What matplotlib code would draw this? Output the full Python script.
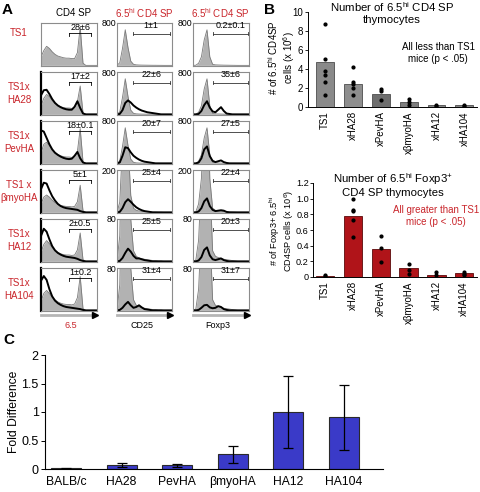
import matplotlib.pyplot as plt
from matplotlib.lines import Line2D
import numpy as np

plt.rcParams['font.family'] = ['Liberation Sans', 'DejaVu Sans']
plt.rcParams['mathtext.fontset'] = 'custom'
plt.rcParams['mathtext.rm'] = 'Liberation Sans'
plt.rcParams['mathtext.it'] = 'Liberation Sans:italic'

W, H = 480, 492
RED = '#c9252b'
GRAY_FILL = '#b2b2b2'

# ---------------- panel A data (histograms) ----------------
row_labels = ['TS1', 'TS1x\nHA28', 'TS1x\nPevHA', 'TS1 x\n\u03b2myoHA', 'TS1x\nHA12', 'TS1x\nHA104']
col_titles = ['CD4 SP', '6.5$^{\\mathrm{hi}}$ CD4 SP', '6.5$^{\\mathrm{hi}}$ CD4 SP']
col_axis = ['6.5', 'CD25', 'Foxp3']
gate_col1 = ['28\u00b16', '17\u00b12', '18\u00b10.1', '5\u00b11', '2\u00b10.5', '1\u00b10.2']
gate_col2 = ['1\u00b11', '22\u00b16', '20\u00b17', '25\u00b14', '25\u00b15', '31\u00b14']
gate_col3 = ['0.2\u00b10.1', '35\u00b16', '27\u00b15', '22\u00b14', '20\u00b13', '31\u00b17']
y_max = [800, 800, 800, 200, 80, 80]

# 6.5 expression, gray = TS1 reference (fraction of box height), one row each
gray_65 = [
    [0.2, 0.35, 0.45, 0.4, 0.32, 0.26, 0.22, 0.2, 0.18, 0.17, 0.17, 0.16, 0.16, 0.3, 0.91, 0.05, 0, 0, 0, 0, 0],
    [0.2, 0.38, 0.47, 0.42, 0.33, 0.26, 0.21, 0.18, 0.16, 0.15, 0.15, 0.14, 0.15, 0.3, 0.67, 0.04, 0, 0, 0, 0, 0],
    [0.25, 0.45, 0.5, 0.42, 0.33, 0.26, 0.21, 0.18, 0.16, 0.15, 0.15, 0.14, 0.15, 0.28, 0.82, 0.04, 0, 0, 0, 0, 0],
    [0.2, 0.36, 0.41, 0.36, 0.29, 0.23, 0.19, 0.16, 0.15, 0.14, 0.14, 0.13, 0.14, 0.25, 0.64, 0.04, 0, 0, 0, 0, 0],
    [0.22, 0.4, 0.49, 0.42, 0.33, 0.26, 0.21, 0.18, 0.16, 0.15, 0.15, 0.14, 0.15, 0.27, 0.67, 0.04, 0, 0, 0, 0, 0],
    [0.22, 0.4, 0.47, 0.4, 0.31, 0.25, 0.2, 0.17, 0.15, 0.14, 0.14, 0.13, 0.15, 0.3, 0.8, 0.04, 0, 0, 0, 0, 0],
]
black_65 = [
    None,
    [0.45, 0.57, 0.58, 0.48, 0.36, 0.27, 0.21, 0.17, 0.14, 0.12, 0.11, 0.11, 0.18, 0.31, 0.15, 0.02, 0, 0, 0, 0, 0],
    [0.78, 0.75, 0.6, 0.45, 0.33, 0.25, 0.2, 0.16, 0.13, 0.11, 0.1, 0.11, 0.18, 0.27, 0.12, 0.02, 0, 0, 0, 0, 0],
    [0.55, 0.7, 0.68, 0.52, 0.38, 0.28, 0.2, 0.15, 0.12, 0.1, 0.09, 0.08, 0.07, 0.06, 0.03, 0.01, 0, 0, 0, 0, 0],
    [0.6, 0.77, 0.7, 0.52, 0.36, 0.26, 0.2, 0.16, 0.13, 0.11, 0.1, 0.09, 0.08, 0.06, 0.03, 0.01, 0, 0, 0, 0, 0],
    [0.7, 0.81, 0.72, 0.5, 0.33, 0.23, 0.17, 0.13, 0.1, 0.08, 0.07, 0.06, 0.05, 0.04, 0.03, 0.01, 0, 0, 0, 0, 0],
]
# CD25 / Foxp3: TS1 reference in units of 800 events
gray_cd25 = [0, 0.06, 0.4, 0.84, 0.42, 0.1, 0.025, 0.012, 0.008, 0.006, 0.005, 0.004, 0.003, 0.002, 0.002, 0.001, 0.001, 0, 0, 0, 0]
gray_foxp3 = [0, 0.003, 0.05, 0.2, 0.6, 0.84, 0.2, 0.025, 0.012, 0.009, 0.007, 0.005, 0.004, 0.003, 0.002, 0.001, 0, 0, 0, 0, 0]
black_cd25 = [
    None,
    [0, 0.01, 0.1, 0.27, 0.33, 0.28, 0.21, 0.16, 0.12, 0.09, 0.07, 0.05, 0.04, 0.03, 0.02, 0.01, 0, 0, 0, 0, 0],
    [0, 0.02, 0.18, 0.38, 0.36, 0.26, 0.18, 0.13, 0.09, 0.06, 0.04, 0.03, 0.02, 0.01, 0, 0, 0, 0, 0, 0, 0],
    [0, 0.01, 0.1, 0.24, 0.31, 0.25, 0.18, 0.12, 0.08, 0.05, 0.03, 0.02, 0.01, 0, 0, 0, 0, 0, 0, 0, 0],
    [0, 0.01, 0.08, 0.2, 0.3, 0.23, 0.13, 0.07, 0.07, 0.05, 0.03, 0.02, 0.01, 0, 0, 0, 0, 0, 0, 0, 0],
    [0, 0.01, 0.06, 0.14, 0.2, 0.12, 0.06, 0.08, 0.12, 0.07, 0.03, 0.02, 0.01, 0, 0, 0, 0, 0, 0, 0, 0],
]
black_foxp3 = [
    None,
    [0, 0, 0.01, 0.08, 0.22, 0.31, 0.16, 0.07, 0.05, 0.11, 0.17, 0.08, 0.02, 0.01, 0, 0, 0, 0, 0, 0, 0],
    [0, 0, 0.02, 0.12, 0.33, 0.4, 0.17, 0.06, 0.03, 0.05, 0.07, 0.03, 0.01, 0, 0, 0, 0, 0, 0, 0, 0],
    [0, 0, 0.02, 0.1, 0.26, 0.33, 0.15, 0.06, 0.03, 0.04, 0.05, 0.04, 0.01, 0, 0, 0, 0, 0, 0, 0, 0],
    [0, 0, 0.02, 0.1, 0.27, 0.33, 0.14, 0.05, 0.03, 0.05, 0.07, 0.03, 0.01, 0, 0, 0, 0, 0, 0, 0, 0],
    [0, 0, 0.01, 0.06, 0.12, 0.13, 0.07, 0.05, 0.06, 0.1, 0.08, 0.03, 0.01, 0, 0, 0, 0, 0, 0, 0, 0],
]

# ---------------- panel B data ----------------
b_groups = ['TS1', 'xHA28', 'xPevHA', 'x\u03b2myoHA', 'xHA12', 'xHA104']
b1_means = [4.75, 2.45, 1.38, 0.53, 0.16, 0.16]
b1_points = [[8.7, 5.1, 3.75, 3.4, 2.6, 1.3], [4.2, 2.6, 2.4, 2.0, 1.3], [1.9, 1.7, 0.75],
             [0.85, 0.5, 0.25], [0.25, 0.1], [0.25, 0.1]]
b2_means = [0.015, 0.78, 0.36, 0.11, 0.03, 0.045]
b2_points = [[0.03, 0.01], [0.99, 0.85, 0.84, 0.73, 0.51], [0.52, 0.37, 0.19],
             [0.17, 0.09, 0.04], [0.06, 0.03], [0.07, 0.04, 0.025]]

# ---------------- panel C data ----------------
c_groups = ['BALB/c', 'HA28', 'PevHA', '\u03b2myoHA', 'HA12', 'HA104']
c_means = [0.01, 0.07, 0.065, 0.26, 1.0, 0.91]
c_err = [0.01, 0.04, 0.025, 0.15, 0.64, 0.57]

fig = plt.figure(figsize=(W / 100, H / 100), dpi=100)


def px_axes(x0, y0, x1, y1):
    return fig.add_axes([x0 / W, 1 - y1 / H, (x1 - x0) / W, (y1 - y0) / H])


def px_text(x, y, s, **kw):
    fig.text(x / W, 1 - y / H, s, **kw)


# ---------------- panel A ----------------
px_text(2, 10, 'A', fontsize=11, fontweight='bold', va='center')
col_x = [(41, 97), (117, 172), (193, 249)]
row_top = [23, 72, 121, 170, 219, 268]
box_h = 43
grid = np.linspace(0, 1, 21)
col_centers = [73, 144, 220]
for j, t in enumerate(col_titles):
    px_text(col_centers[j], 13, t, fontsize=7, ha='center', va='center',
            color='k' if j == 0 else RED)

for i in range(6):
    y0 = row_top[i]
    ly = 33 if i == 0 else y0 + box_h / 2
    px_text(19, ly, row_labels[i], fontsize=7, color=RED, ha='center', va='center',
            linespacing=1.3)
    for j in range(3):
        x0, x1 = col_x[j]
        ax = px_axes(x0, y0, x1, y0 + box_h)
        if j == 0:
            g = np.array(gray_65[i])
            b = black_65[i]
        elif j == 1:
            g = np.array(gray_cd25) * 800 / y_max[i]
            b = black_cd25[i]
        else:
            g = np.array(gray_foxp3) * 800 / y_max[i]
            b = black_foxp3[i]
        ax.fill_between(grid, g, color=GRAY_FILL, lw=0)
        ax.plot(grid, g, color='#7a7a7a', lw=0.6)
        if b is not None:
            ax.plot(grid, b, color='k', lw=1.4)
        ax.set_xlim(0, 1)
        ax.set_ylim(-0.015, 1)
        ax.set_xticks([])
        ax.set_yticks([])
        for s in ax.spines.values():
            s.set_color('#8c8c8c')
            s.set_linewidth(0.8)
        if j == 0 and i > 0:
            ax.spines['left'].set_color('k')
            ax.spines['left'].set_linewidth(1.6)
        # gates
        if j == 0:
            gx0, gx1, gy, tc = 0.5, 0.89, 0.77, 0.7
            ax.plot([gx0, gx1], [gy, gy], color='k', lw=0.6)
            ax.plot([gx0, gx0], [gy, gy - 0.07], color='k', lw=0.6)
            ax.plot([gx1, gx1], [gy, gy - 0.07], color='k', lw=0.6)
            ax.text(tc, gy + 0.02, gate_col1[i], fontsize=6.5, ha='center', va='bottom')
        else:
            gx0, gx1 = (0.29, 0.96) if j == 1 else (0.36, 0.98)
            tc = 0.62 if j == 1 else 0.67
            gy = 0.745
            ax.plot([gx0, gx1], [gy, gy], color='#333333', lw=0.6)
            ax.plot([gx0, gx0], [gy - 0.04, gy + 0.04], color='#333333', lw=0.6)
            ax.plot([gx1, gx1], [gy - 0.04, gy + 0.04], color='#333333', lw=0.6)
            labels = gate_col2 if j == 1 else gate_col3
            ax.text(tc, gy + 0.09, labels[i], fontsize=6.5, ha='center', va='bottom')
            px_text(x0 - 0.5, y0 + 1, str(y_max[i]), fontsize=6.3, ha='right', va='center')

# bottom axis arrows
for j in range(3):
    x0, x1 = col_x[j]
    fig.add_artist(Line2D([x0 / W, (x1 - 3) / W], [1 - 315 / H] * 2, transform=fig.transFigure,
                          color='#b5b5b5', lw=2))
    fig.add_artist(Line2D([(x1 - 2) / W], [1 - 315 / H], transform=fig.transFigure,
                          marker='>', ms=4, color='k', lw=0))
    px_text(col_centers[j] - 2, 325, col_axis[j], fontsize=6.5, ha='center', va='center',
            color=RED if j == 0 else 'k')

# ---------------- panel B ----------------
px_text(264, 10, 'B', fontsize=11, fontweight='bold', va='center')
xs = np.arange(len(b_groups))
b1_colors = ['#8a8a8a', '#8e8e8e', '#6e6e6e', '#7e7e7e', '#858585', '#858585']

ax1 = px_axes(308, 12, 477, 107)
ax1.bar(xs, b1_means, width=0.64, color=b1_colors, edgecolor='#4d4d4d', lw=0.6, zorder=2)
for i, pts in enumerate(b1_points):
    ax1.plot([i] * len(pts), pts, 'o', color='k', ms=2, zorder=3)
ax1.set_ylim(0, 10)
ax1.set_yticks(range(0, 11, 2))
ax1.set_xlim(-0.6, 5.45)
ax1.set_xticks(xs)
ax1.set_xticklabels(b_groups, rotation=90, fontsize=7)
ax1.tick_params(axis='y', labelsize=7, length=2, pad=1.5, width=0.6)
ax1.tick_params(axis='x', length=0, pad=3)
for s in ['top', 'right']:
    ax1.spines[s].set_visible(False)
for s in ['left', 'bottom']:
    ax1.spines[s].set_linewidth(0.7)
px_text(392, 12.5, 'Number of 6.5$^{\\mathrm{hi}}$ CD4 SP\nthymocytes', fontsize=8.2,
        ha='center', va='center', linespacing=1.15)
px_text(281.5, 58, '# of 6.5$^{\\mathrm{hi}}$ CD4SP\ncells (x 10$^{6}$)', fontsize=7,
        ha='center', va='center', rotation=90, linespacing=1.1)
px_text(438, 53.5, 'All less than TS1\nmice (p < .05)', fontsize=7, ha='center', va='center',
        linespacing=1.25)

ax2 = px_axes(313, 183, 477, 277)
ax2.bar(xs, b2_means, width=0.66, color='#b01419', edgecolor='#5a0a0a', lw=0.6, zorder=2)
for i, pts in enumerate(b2_points):
    ax2.plot([i] * len(pts), pts, 'o', color='k', ms=2, zorder=3)
ax2.set_ylim(0, 1.2)
ax2.set_yticks([0, 0.2, 0.4, 0.6, 0.8, 1.0, 1.2])
ax2.set_yticklabels(['0', '0.2', '0.4', '0.6', '0.8', '1.0', '1.2'])
ax2.set_xlim(-0.44, 5.46)
ax2.set_xticks(xs)
ax2.set_xticklabels(b_groups, rotation=90, fontsize=7)
ax2.tick_params(axis='y', labelsize=6.6, length=2, pad=1.0, width=0.6)
ax2.tick_params(axis='x', length=0, pad=3)
for s in ['top', 'right']:
    ax2.spines[s].set_visible(False)
for s in ['left', 'bottom']:
    ax2.spines[s].set_linewidth(0.7)
px_text(393, 184.5, 'Number of 6.5$^{\\mathrm{hi}}$ Foxp3$^{+}$\nCD4 SP thymocytes', fontsize=8.2,
        ha='center', va='center', linespacing=1.15)
px_text(281.5, 231, '# of Foxp3+ 6.5$^{\\mathrm{hi}}$\nCD4SP cells (x 10$^{6}$)', fontsize=6.6,
        ha='center', va='center', rotation=90, linespacing=1.0)
px_text(436, 216, 'All greater than TS1\nmice (p < .05)', fontsize=7, ha='center', va='center',
        color=RED, linespacing=1.25)

# ---------------- panel C ----------------
px_text(3, 340, 'C', fontsize=11, fontweight='bold', va='center')
ax3 = px_axes(45, 355, 383, 469)
xc = np.arange(len(c_groups))
ax3.bar(xc, c_means, width=0.54, color='#3a3ac8', edgecolor='#2a2a2a', lw=0.8,
        yerr=c_err, capsize=3.5, error_kw=dict(elinewidth=0.9, capthick=0.9, ecolor='k'))
ax3.set_xlim(-0.38, 5.71)
ax3.set_ylim(0, 2)
ax3.set_yticks([0, 0.5, 1, 1.5, 2])
ax3.set_yticklabels(['0', '0.5', '1', '1.5', '2'], fontsize=9)
ax3.set_xticks(xc)
ax3.set_xticklabels(c_groups, fontsize=8.7)
ax3.tick_params(axis='y', length=3, pad=1.5, width=0.7)
ax3.tick_params(axis='x', length=0, pad=5)
for s in ['top', 'right']:
    ax3.spines[s].set_visible(False)
for s in ['left', 'bottom']:
    ax3.spines[s].set_linewidth(0.8)
ax3.set_ylabel('Fold Difference', fontsize=8.7)
ax3.yaxis.set_label_coords(-0.074, 0.5)

fig.savefig('out.png', dpi=100)
